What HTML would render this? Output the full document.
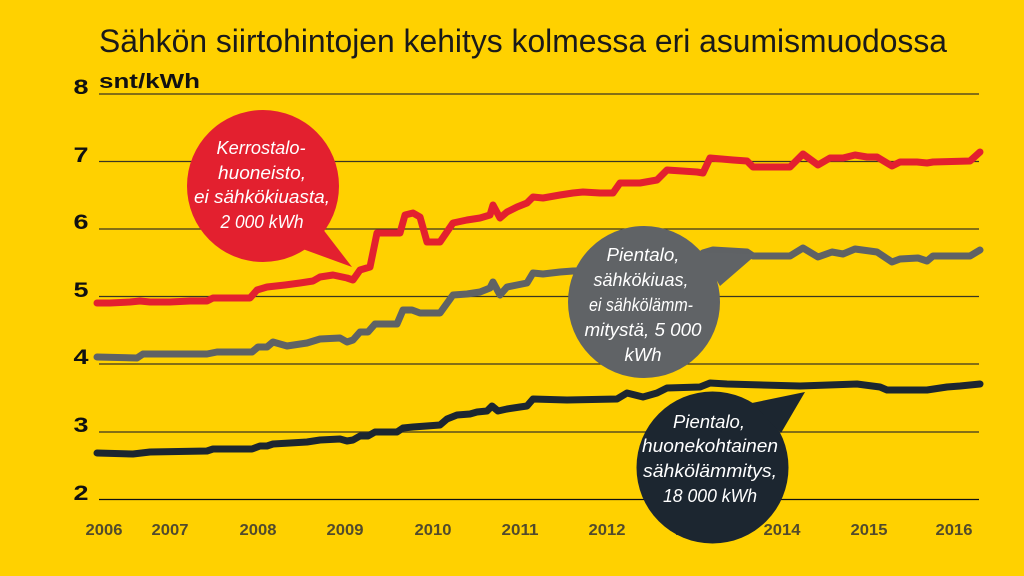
<!DOCTYPE html>
<html>
<head>
<meta charset="utf-8">
<style>
html,body{margin:0;padding:0;background:#FFD100;}
svg{display:block;}
text{font-family:"Liberation Sans",sans-serif;}
</style>
</head>
<body>
<svg width="1024" height="576" viewBox="0 0 1024 576" xmlns="http://www.w3.org/2000/svg">
<rect x="0" y="0" width="1024" height="576" fill="#FFD100"/>

<!-- Title -->
<text x="99" y="52" font-size="32" fill="#1a1a1a" textLength="848" lengthAdjust="spacingAndGlyphs">Sähkön siirtohintojen kehitys kolmessa eri asumismuodossa</text>
<text x="99" y="88" font-size="20" font-weight="bold" fill="#111" textLength="101" lengthAdjust="spacingAndGlyphs">snt/kWh</text>

<!-- Gridlines -->
<g stroke="#3a3522" stroke-width="1.3">
<line x1="99" y1="94" x2="979" y2="94"/>
<line x1="99" y1="161.5" x2="979" y2="161.5"/>
<line x1="99" y1="229" x2="979" y2="229"/>
<line x1="99" y1="296.5" x2="979" y2="296.5"/>
<line x1="99" y1="364" x2="979" y2="364"/>
<line x1="99" y1="432" x2="979" y2="432"/>
<line x1="99" y1="499.5" x2="979" y2="499.5" stroke="#111"/>
</g>

<!-- Y labels -->
<g font-size="21" font-weight="bold" fill="#111" text-anchor="middle">
<text x="81" y="94" textLength="15" lengthAdjust="spacingAndGlyphs">8</text>
<text x="81" y="162" textLength="15" lengthAdjust="spacingAndGlyphs">7</text>
<text x="81" y="229" textLength="15" lengthAdjust="spacingAndGlyphs">6</text>
<text x="81" y="297" textLength="15" lengthAdjust="spacingAndGlyphs">5</text>
<text x="81" y="364" textLength="15" lengthAdjust="spacingAndGlyphs">4</text>
<text x="81" y="432" textLength="15" lengthAdjust="spacingAndGlyphs">3</text>
<text x="81" y="500" textLength="15" lengthAdjust="spacingAndGlyphs">2</text>
</g>

<!-- X labels -->
<g font-size="16" font-weight="bold" fill="#524b2c" text-anchor="middle">
<text x="104" y="535" textLength="37" lengthAdjust="spacingAndGlyphs">2006</text>
<text x="170" y="535" textLength="37" lengthAdjust="spacingAndGlyphs">2007</text>
<text x="258" y="535" textLength="37" lengthAdjust="spacingAndGlyphs">2008</text>
<text x="345" y="535" textLength="37" lengthAdjust="spacingAndGlyphs">2009</text>
<text x="433" y="535" textLength="37" lengthAdjust="spacingAndGlyphs">2010</text>
<text x="520" y="535" textLength="37" lengthAdjust="spacingAndGlyphs">2011</text>
<text x="607" y="535" textLength="37" lengthAdjust="spacingAndGlyphs">2012</text>
<text x="694" y="535" textLength="37" lengthAdjust="spacingAndGlyphs">2013</text>
<text x="782" y="535" textLength="37" lengthAdjust="spacingAndGlyphs">2014</text>
<text x="869" y="535" textLength="37" lengthAdjust="spacingAndGlyphs">2015</text>
<text x="954" y="535" textLength="37" lengthAdjust="spacingAndGlyphs">2016</text>
</g>

<!-- Series -->
<g fill="none" stroke-width="7" stroke-linejoin="round" stroke-linecap="round">
<polyline stroke="#E3202F" points="97,303 110,303 130,302 140,301 150,302 170,302 190,301 207,301 213,298 250,298 257,290 267,287 285,285 300,283 313,281 320,277 333,275 347,278 353,280 360,270 370,267 377,233 400,233 405,215 413,213 420,217 427,242 440,242 453,223 467,220 480,218 490,215 493,205 500,218 507,212 517,207 527,203 533,197 543,198 560,195 573,193 583,192 600,193 613,193 620,183 640,183 657,180 667,170 697,172 703,173 710,158 733,160 747,161 753,167 790,167 803,154 818,165 830,158 843,158 855,155 867,157 877,157 892,166 900,162 917,162 927,163 933,162 970,161 980,152"/>
<polyline stroke="#5F6265" points="97,357 137,358 143,354 207,354 217,352 252,352 258,347 267,347 273,342 287,346 307,343 320,339 340,338 347,342 353,340 360,332 368,332 375,324 397,324 403,310 412,310 420,313 440,313 453,295 467,294 480,292 490,288 493,282 500,295 507,287 517,285 527,283 533,273 543,274 560,272 573,271 620,270 667,268 697,268 703,253 713,250 747,252 753,256 790,256 803,248 818,257 832,252 843,254 855,249 877,252 892,262 900,259 918,258 927,261 933,256 970,256 980,250"/>
<polyline stroke="#1C2630" points="97,453 133,454 150,452 207,451 213,449 252,449 260,446 267,446 273,444 307,442 320,440 340,439 347,441 353,440 360,436 368,436 375,432 397,432 403,428 413,427 440,425 447,419 457,415 470,414 477,412 487,411 492,406 498,411 507,409 520,407 527,406 533,399 567,400 617,399 627,393 643,397 657,393 667,388 700,387 710,383 727,384 800,386 857,384 880,387 887,390 927,390 947,387 960,386 980,384"/>
</g>

<!-- Red bubble -->
<g fill="#E3202F">
<circle cx="263" cy="186" r="76"/>
<polygon points="322,228 352,267 300,248"/>
</g>
<g font-size="18" font-style="italic" fill="#ffffff" text-anchor="middle">
<text x="261" y="154" textLength="89" lengthAdjust="spacingAndGlyphs">Kerrostalo-</text>
<text x="262" y="179" textLength="88" lengthAdjust="spacingAndGlyphs">huoneisto,</text>
<text x="262" y="203" textLength="136" lengthAdjust="spacingAndGlyphs">ei sähkökiuasta,</text>
<text x="262" y="228" textLength="83" lengthAdjust="spacingAndGlyphs">2 000 kWh</text>
</g>

<!-- Gray bubble -->
<g fill="#606366">
<circle cx="644" cy="302" r="76"/>
<polygon points="700,252 757,254 720,286"/>
</g>
<g font-size="18" font-style="italic" fill="#ffffff" text-anchor="middle">
<text x="643" y="261" textLength="73" lengthAdjust="spacingAndGlyphs">Pientalo,</text>
<text x="641" y="286" textLength="95" lengthAdjust="spacingAndGlyphs">sähkökiuas,</text>
<text x="641" y="311" textLength="104" lengthAdjust="spacingAndGlyphs">ei sähkölämm-</text>
<text x="643" y="336" textLength="117" lengthAdjust="spacingAndGlyphs">mitystä, 5 000</text>
<text x="643" y="361" textLength="37" lengthAdjust="spacingAndGlyphs">kWh</text>
</g>

<!-- Dark bubble -->
<g fill="#1C2630">
<circle cx="712.5" cy="467.5" r="76"/>
<polygon points="752,403 805,392 781,433"/>
</g>
<g font-size="18" font-style="italic" fill="#ffffff" text-anchor="middle">
<text x="709" y="428" textLength="72" lengthAdjust="spacingAndGlyphs">Pientalo,</text>
<text x="710" y="452" textLength="136" lengthAdjust="spacingAndGlyphs">huonekohtainen</text>
<text x="710" y="477" textLength="134" lengthAdjust="spacingAndGlyphs">sähkölämmitys,</text>
<text x="710" y="502" textLength="94" lengthAdjust="spacingAndGlyphs">18 000 kWh</text>
</g>
</svg>
</body>
</html>
